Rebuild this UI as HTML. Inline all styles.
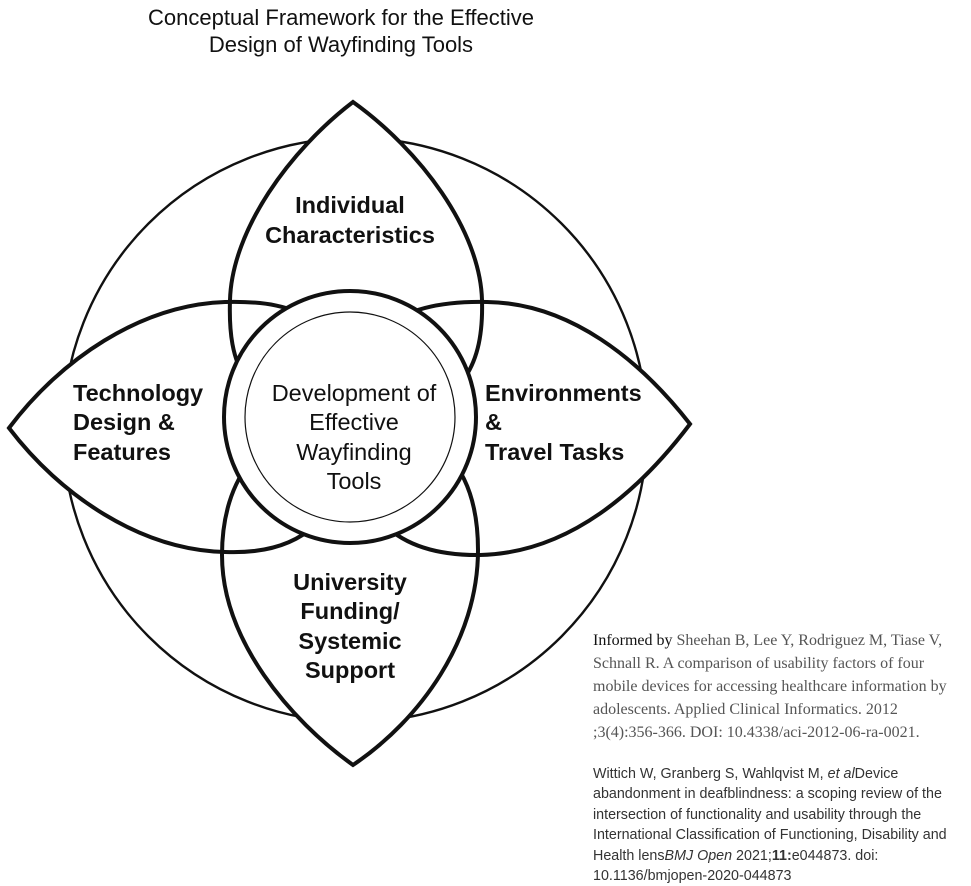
<!DOCTYPE html>
<html><head><meta charset="utf-8"><style>
html,body{margin:0;padding:0;background:#fff;}
body{width:971px;height:867px;position:relative;overflow:hidden;}
.ref{position:absolute;left:593px;white-space:nowrap;}
.serif{font-family:"Liberation Serif",serif;font-size:16px;color:#555;line-height:23px;top:629px;}
.sans{font-family:"Liberation Sans",sans-serif;font-size:14.3px;color:#333;line-height:20.4px;top:764px;}
</style></head><body>
<svg width="971" height="867" viewBox="0 0 971 867" style="position:absolute;left:0;top:0">
<g font-family="Liberation Sans, sans-serif" text-anchor="middle" fill="#111">
<text x="341" y="25" font-size="22">Conceptual Framework for the Effective</text>
<text x="341" y="52" font-size="22">Design of Wayfinding Tools</text>
</g>
<circle cx="355" cy="430" r="292" fill="none" stroke="#111" stroke-width="2.4"/>
<g fill="#fff" stroke="none">
<path d="M353,102 C290,150 232,230 230,300 C228,360 240,420 350,420 C460,420 484,370 482,300 C480,230 420,150 353,102 Z"/>
<path d="M9,428 C60,360 140,305 225,302 C300,300 350,320 350,420 C350,520 300,555 225,552 C140,550 60,495 9,428 Z"/>
<path d="M690,424 C640,360 570,303 487,302 C400,300 350,330 350,420 C350,520 400,556 480,555 C570,553 640,490 690,424 Z"/>
<path d="M353,765 C290,720 222,640 222,555 C222,480 260,420 350,420 C440,420 478,470 478,550 C478,640 420,720 353,765 Z"/>
</g>
<g fill="none" stroke="#111" stroke-width="4" stroke-linejoin="miter">
<path d="M353,102 C290,150 232,230 230,300 C228,360 240,420 350,420 C460,420 484,370 482,300 C480,230 420,150 353,102 Z"/>
<path d="M9,428 C60,360 140,305 225,302 C300,300 350,320 350,420 C350,520 300,555 225,552 C140,550 60,495 9,428 Z"/>
<path d="M690,424 C640,360 570,303 487,302 C400,300 350,330 350,420 C350,520 400,556 480,555 C570,553 640,490 690,424 Z"/>
<path d="M353,765 C290,720 222,640 222,555 C222,480 260,420 350,420 C440,420 478,470 478,550 C478,640 420,720 353,765 Z"/>
</g>
<circle cx="350" cy="417" r="126" fill="#fff" stroke="#111" stroke-width="4"/>
<circle cx="350" cy="417" r="105" fill="#fff" stroke="#111" stroke-width="1.2"/>
<g font-family="Liberation Sans, sans-serif" font-size="23.5" font-weight="bold" fill="#111">
<text x="350" y="213" text-anchor="middle">Individual</text>
<text x="350" y="243" text-anchor="middle">Characteristics</text>
<text x="73" y="401">Technology</text>
<text x="73" y="430">Design &amp;</text>
<text x="73" y="460">Features</text>
<text x="485" y="401">Environments</text>
<text x="485" y="430">&amp;</text>
<text x="485" y="460">Travel Tasks</text>
<text x="350" y="590" text-anchor="middle">University</text>
<text x="350" y="619" text-anchor="middle">Funding/</text>
<text x="350" y="649" text-anchor="middle">Systemic</text>
<text x="350" y="678" text-anchor="middle">Support</text>
</g>
<g font-family="Liberation Sans, sans-serif" font-size="23.5" fill="#111" text-anchor="middle">
<text x="354" y="401">Development of</text>
<text x="354" y="430">Effective</text>
<text x="354" y="460">Wayfinding</text>
<text x="354" y="489">Tools</text>
</g>
</svg>
<div class="ref serif"><span style="color:#111">Informed by</span> Sheehan B, Lee Y, Rodriguez M, Tiase V,<br>Schnall R. A comparison of usability factors of four<br>mobile devices for accessing healthcare information by<br>adolescents. Applied Clinical Informatics. 2012<br>;3(4):356-366. DOI: 10.4338/aci-2012-06-ra-0021.</div>
<div class="ref sans">Wittich W, Granberg S, Wahlqvist M, <i>et al</i>Device<br>abandonment in deafblindness: a scoping review of the<br>intersection of functionality and usability through the<br>International Classification of Functioning, Disability and<br>Health lens<i>BMJ Open</i> 2021;<b>11:</b>e044873. doi:<br>10.1136/bmjopen-2020-044873</div>
</body></html>
